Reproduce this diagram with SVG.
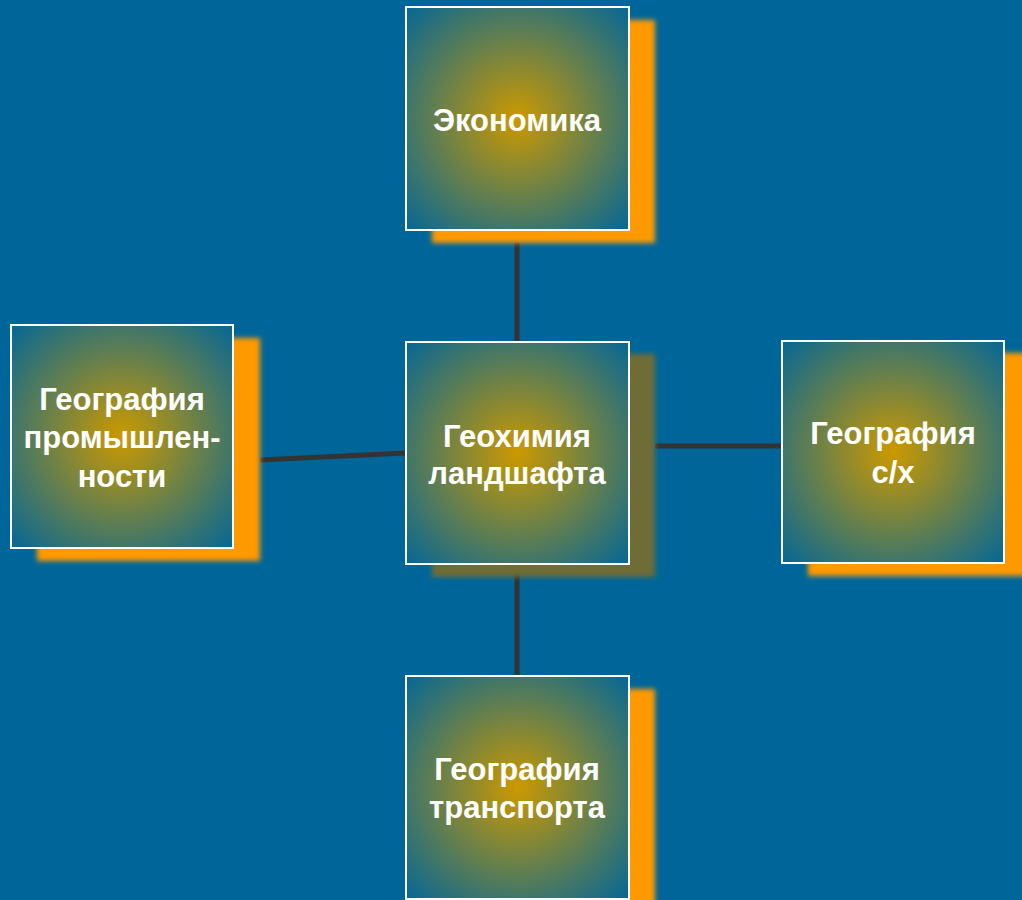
<svg xmlns="http://www.w3.org/2000/svg" width="1022" height="900" viewBox="0 0 1022 900">
<defs>
<radialGradient id="g" cx="50%" cy="50%" r="72%">
<stop offset="0" stop-color="#cc9900"/>
<stop offset="1" stop-color="#006699"/>
</radialGradient>
<filter id="blur" x="-10%" y="-10%" width="120%" height="120%"><feGaussianBlur stdDeviation="2.5"/></filter>
<style>
.box{fill:url(#g);stroke:#ffffff;stroke-width:2}
.sh{fill:#ff9900;filter:url(#blur)}
.shc{fill:#706c35;filter:url(#blur)}
.t{font-family:"Liberation Sans",Arial,sans-serif;font-weight:bold;font-size:31px;fill:#ffffff;text-anchor:middle}
.c{stroke:#333333;stroke-width:5;fill:none}
</style>
</defs>
<rect width="1022" height="900" fill="#006699"/>
<g id="connectors">
<line class="c" x1="517" y1="243" x2="517" y2="342"/>
<line class="c" x1="517" y1="564" x2="517" y2="676"/>
<line class="c" x1="260" y1="460" x2="406" y2="453"/>
<line class="c" x1="655" y1="446" x2="782" y2="446"/>
</g>
<g id="n-economy">
<rect class="sh" x="432" y="20" width="223" height="223"/>
<rect class="box" x="406" y="7" width="223" height="223"/>
<text class="t" x="517" y="131">Экономика</text>
</g>
<g id="n-center">
<rect class="shc" x="432" y="354" width="223" height="223"/>
<rect class="box" x="406" y="342" width="223" height="222"/>
<text class="t" x="517" y="447">Геохимия</text>
<text class="t" x="517" y="484">ландшафта</text>
</g>
<g id="n-industry">
<rect class="sh" x="37" y="338" width="223" height="223"/>
<rect class="box" x="11" y="325" width="222" height="223"/>
<text class="t" x="122" y="410">География</text>
<text class="t" x="122" y="448">промышлен-</text>
<text class="t" x="122" y="487">ности</text>
</g>
<g id="n-agri">
<rect class="sh" x="808" y="353" width="223" height="223"/>
<rect class="box" x="782" y="341" width="222" height="222"/>
<text class="t" x="893" y="444">География</text>
<text class="t" x="893" y="483">с/х</text>
</g>
<g id="n-transport">
<rect class="sh" x="432" y="689" width="223" height="223"/>
<rect class="box" x="406" y="676" width="223" height="223"/>
<text class="t" x="517" y="780">География</text>
<text class="t" x="517" y="818">транспорта</text>
</g>
</svg>
